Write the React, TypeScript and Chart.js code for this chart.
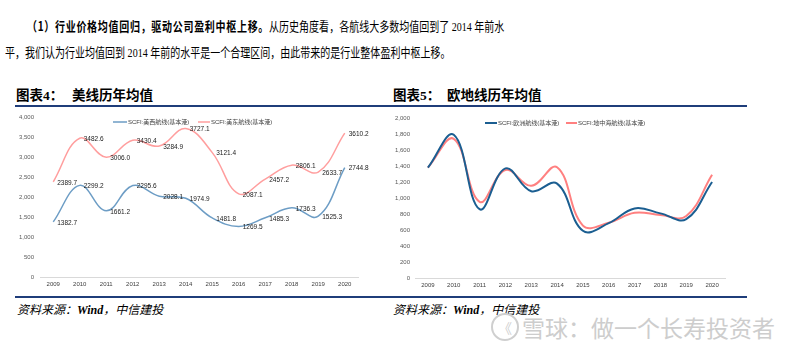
import React, { useEffect, useRef } from 'react';
import { Chart, registerables } from 'chart.js';

Chart.register(...registerables);

// ---------- data ----------
const years = ['2009', '2010', '2011', '2012', '2013', '2014', '2015', '2016', '2017', '2018', '2019', '2020'];
const usWestLabel = 'SCFI:美西航线(基本港)';
const usEastLabel = 'SCFI:美东航线(基本港)';
const usWest = [1382.7, 2299.2, 1661.2, 2295.6, 2028.1, 1974.9, 1481.8, 1269.5, 1485.3, 1736.3, 1525.3, 2744.8];
const usEast = [2389.7, 3482.6, 3006.0, 3430.4, 3284.9, 3727.1, 3121.4, 2087.1, 2457.2, 2806.1, 2633.7, 3610.2];
const europeLabel = 'SCFI:欧洲航线(基本港)';
const medLabel = 'SCFI:地中海航线(基本港)';
const europe = [1380, 1790, 860, 1370, 1085, 1180, 590, 685, 870, 808, 737, 1200];
const med = [1380, 1740, 952, 1350, 1152, 1385, 655, 691, 816, 787, 775, 1290];
const usTicks = { min: 0, max: 4000, step: 500 };
const euTicks = { min: 0, max: 2000, step: 200 };

const FONT = '"Liberation Sans", Arial, "Noto Sans CJK SC", sans-serif';

type LegendItem = { text: string; color: string; x: number; y: number; len: number };

function legendPlugin(items: LegendItem[], lw: number) {
  return {
    id: 'customLegend',
    afterDraw(chart: any) {
      const ctx = chart.ctx;
      ctx.save();
      for (const it of items) {
        ctx.strokeStyle = it.color;
        ctx.lineWidth = lw;
        ctx.beginPath();
        ctx.moveTo(it.x, it.y);
        ctx.lineTo(it.x + it.len, it.y);
        ctx.stroke();
        ctx.fillStyle = '#404040';
        ctx.font = '6px ' + FONT;
        ctx.textAlign = 'left';
        ctx.textBaseline = 'middle';
        ctx.fillText(it.text, it.x + it.len + 1, it.y);
      }
      ctx.restore();
    },
  };
}

const dataLabelPlugin = {
  id: 'dataLabels',
  afterDatasetsDraw(chart: any) {
    const ctx = chart.ctx;
    ctx.save();
    ctx.font = '6.5px ' + FONT;
    ctx.fillStyle = '#1a1a1a';
    ctx.textAlign = 'left';
    ctx.textBaseline = 'middle';
    chart.data.datasets.forEach((ds: any, i: number) => {
      const meta = chart.getDatasetMeta(i);
      meta.data.forEach((pt: any, j: number) => {
        ctx.fillText(Number(ds.data[j]).toFixed(1), pt.x + 4, pt.y + 1);
      });
    });
    ctx.restore();
  },
};

function makeOptions(t: { min: number; max: number; step: number }, padTop: number, padRight: number, yWidth: number, yPad: number, xHeight: number): any {
  return {
    animation: false,
    responsive: false,
    maintainAspectRatio: false,
    layout: { padding: { top: padTop, right: padRight, left: 0, bottom: 0 } },
    plugins: { legend: { display: false }, tooltip: { enabled: false } },
    elements: { point: { radius: 0 }, line: { tension: 0.4 } },
    scales: {
      x: {
        offset: true,
        grid: { display: false, drawTicks: false },
        border: { display: true, color: '#D9D9D9', width: 1 },
        ticks: { padding: 4, font: { size: 6, family: FONT }, color: '#404040', maxRotation: 0, autoSkip: false },
        afterFit: (s: any) => { s.height = xHeight; },
      },
      y: {
        min: t.min,
        max: t.max,
        ticks: {
          stepSize: t.step,
          padding: yPad,
          font: { size: 6, family: FONT },
          color: '#595959',
          callback: (v: any) => Number(v).toLocaleString('en-US'),
        },
        grid: { display: false, drawTicks: false },
        border: { display: false },
        afterFit: (s: any) => { s.width = yWidth; },
      },
    },
  };
}

function UsChart() {
  const ref = useRef<HTMLCanvasElement>(null);
  useEffect(() => {
    const chart = new Chart(ref.current!, {
      type: 'line',
      data: {
        labels: years,
        datasets: [
          { label: usWestLabel, data: usWest, borderColor: '#6D9DC5', borderWidth: 1.5, fill: false },
          { label: usEastLabel, data: usEast, borderColor: '#FF9E9E', borderWidth: 1.5, fill: false },
        ],
      },
      options: makeOptions(usTicks, 9, 27, 25, 6, 16),
      plugins: [
        dataLabelPlugin,
        legendPlugin(
          [
            { text: usWestLabel, color: '#6D9DC5', x: 98, y: 14, len: 14 },
            { text: usEastLabel, color: '#FF9E9E', x: 183, y: 14, len: 12 },
          ],
          1.5
        ),
      ],
    } as any);
    return () => chart.destroy();
  }, []);
  return <canvas ref={ref} width={370} height={185} style={{ position: 'absolute', left: 15, top: 108 }} />;
}

function EuChart() {
  const ref = useRef<HTMLCanvasElement>(null);
  useEffect(() => {
    const chart = new Chart(ref.current!, {
      type: 'line',
      data: {
        labels: years,
        datasets: [
          { label: europeLabel, data: europe, borderColor: '#1B5E91', borderWidth: 2, fill: false },
          { label: medLabel, data: med, borderColor: '#FF8080', borderWidth: 2, fill: false },
        ],
      },
      options: makeOptions(euTicks, 10, 25, 25, 5, 15),
      plugins: [
        legendPlugin(
          [
            { text: europeLabel, color: '#1B5E91', x: 95, y: 15, len: 12 },
            { text: medLabel, color: '#FF8080', x: 176, y: 15, len: 11 },
          ],
          2
        ),
      ],
    } as any);
    return () => chart.destroy();
  }, []);
  return <canvas ref={ref} width={360} height={185} style={{ position: 'absolute', left: 390, top: 108 }} />;
}

const serifCJK = '"Liberation Serif", "Noto Sans CJK SC", serif';
const sansCJK = '"Noto Sans CJK SC", sans-serif';

export default function App() {
  const abs = (l: number, t: number, extra: any = {}) => ({ position: 'absolute' as const, left: l, top: t, whiteSpace: 'nowrap' as const, ...extra });
  return (
    <div style={{ position: 'fixed', left: 0, top: 0, width: 800, height: 350, background: '#fff', overflow: 'hidden', color: '#000' }}>
      {/* paragraph */}
      <div style={abs(27, 17, { fontFamily: serifCJK, fontSize: 13, lineHeight: '18px', transform: 'scaleX(0.77)', transformOrigin: 'left top' })}>
        <span style={{ fontWeight: 'bold', fontFamily: sansCJK, letterSpacing: '0.9px' }}>（1）行业价格均值回归，驱动公司盈利中枢上移。</span>
        从历史角度看，各航线大多数均值回到了 2014 年前水
      </div>
      <div style={abs(5, 44, { fontFamily: serifCJK, fontSize: 13, lineHeight: '18px', transform: 'scaleX(0.77)', transformOrigin: 'left top' })}>
        平，我们认为行业均值回到 2014 年前的水平是一个合理区间，由此带来的是行业整体盈利中枢上移。
      </div>

      {/* titles */}
      <div style={abs(16, 86, { fontFamily: sansCJK, fontWeight: 'bold', fontSize: 13.5, lineHeight: '16px' })}>
        图表<span style={{ fontFamily: '"Liberation Serif", serif' }}>4</span>：
      </div>
      <div style={abs(72, 86, { fontFamily: sansCJK, fontWeight: 'bold', fontSize: 13.5, lineHeight: '16px' })}>美线历年均值</div>
      <div style={abs(393, 86, { fontFamily: sansCJK, fontWeight: 'bold', fontSize: 13.5, lineHeight: '16px' })}>
        图表<span style={{ fontFamily: '"Liberation Serif", serif' }}>5</span>：
      </div>
      <div style={abs(447, 86, { fontFamily: sansCJK, fontWeight: 'bold', fontSize: 13.5, lineHeight: '16px' })}>欧地线历年均值</div>

      {/* rules */}
      <div style={{ position: 'absolute', left: 15, top: 105, width: 732, height: 2, background: '#1F3D7A' }} />
      <div style={{ position: 'absolute', left: 15, top: 296, width: 732, height: 1.5, background: '#1F3D7A' }} />

      <UsChart />
      <EuChart />

      {/* sources */}
      <div style={abs(17, 302, { fontFamily: serifCJK, fontStyle: 'italic', fontSize: 12, lineHeight: '16px' })}>
        资料来源：<b>Wind</b>，中信建投
      </div>
      <div style={abs(393, 302, { fontFamily: serifCJK, fontStyle: 'italic', fontSize: 12, lineHeight: '16px' })}>
        资料来源：<b>Wind</b>，中信建投
      </div>

      {/* watermark */}
      <div style={{ position: 'absolute', left: 491, top: 313, width: 24, height: 24, borderRadius: '50%', border: '2px solid #cfcfcf', color: '#cfcfcf', fontSize: 14, lineHeight: '24px', textAlign: 'center', fontFamily: sansCJK }}>
        《
      </div>
      <div style={abs(522, 313, { fontFamily: sansCJK, fontSize: 23, lineHeight: '28px', color: '#cdcdcd', letterSpacing: '0px' })}>
        雪球：做一个长寿投资者
      </div>
    </div>
  );
}
